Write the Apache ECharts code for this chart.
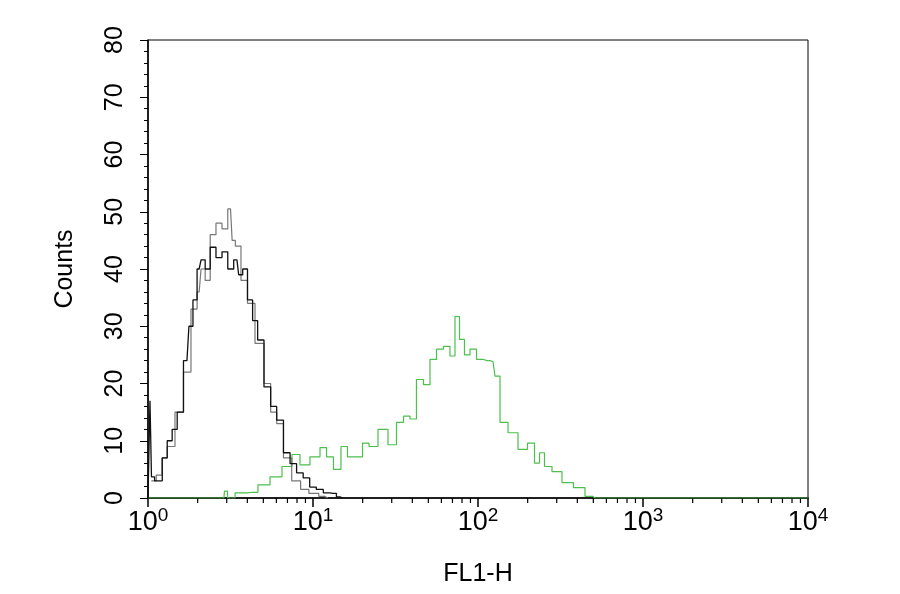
<!DOCTYPE html>
<html><head><meta charset="utf-8">
<script src="https://cdn.jsdelivr.net/npm/echarts@6/dist/echarts.min.js"></script>
<style>html,body{margin:0;padding:0;background:#fff}#c{width:900px;height:594px}</style>
</head><body><div id="c"></div>
<script>
// x values are log10(FL1-H)
const blackX = [0,0.012,0.012,0.03,0.05,0.073,0.1,0.133,0.16,0.194,0.236,0.26,0.285,0.31,0.333,0.36,0.394,0.43,0.467,0.5,0.539,0.56,0.588,0.618,0.65,0.679,0.727,0.76,0.8,0.842,0.88,0.921,0.96,1.0,1.04,1.085,1.12,1.164,1.18];
const blackY = [0,0,17,3.7,3.0,3.0,7,10,12,15,24,30,34.6,40,41.6,40,43.8,42,43,40,41.6,39,40,34.6,31,27.6,19.4,16,13.6,7.9,6,4.4,3.5,1.9,1.5,0.9,0.8,0.2,0];
const grayX = [0.02,0.03,0.07,0.1,0.133,0.194,0.236,0.285,0.31,0.333,0.36,0.394,0.43,0.467,0.5,0.52,0.539,0.588,0.618,0.679,0.727,0.76,0.8,0.842,0.9,0.95,1.0,1.07,1.09];
const grayY = [3,3,4,7,9,15,22,33,36,40,38,46,48,47,50.5,45,44,38,34,27,20,15,13,7,3,1.5,0.8,0.3,0];
const greenX = [0,0.46,0.467,0.497,0.558,0.636,0.697,0.782,0.842,0.903,0.939,1.024,1.061,1.103,1.145,1.194,1.224,1.285,1.315,1.364,1.424,1.485,1.527,1.570,1.606,1.648,1.691,1.727,1.770,1.812,1.848,1.873,1.903,1.933,1.970,2.012,2.055,2.091,2.115,2.152,2.212,2.273,2.327,2.358,2.388,2.418,2.479,2.539,2.618,2.679,2.71,4];
const greenY = [0,0,1.2,0,0.9,1.0,2.3,3.7,5.5,7.6,5.8,7.2,8.8,7.2,5.0,9.0,7.2,7.2,9.6,9.0,12.0,9.3,13.2,14.3,13.8,20.7,19.8,24.2,26.0,26.5,24.8,31.7,27.7,25.0,26.0,24.2,24.0,23.8,21.3,13.2,11.4,8.5,9.6,6.1,7.9,5.5,4.6,2.7,1.8,0.3,0,0];
const xDecades = [0,1,2,3,4];
const xMinorTicks = [];
for (let d = 0; d < 4; d++) for (let k = 2; k <= 9; k++) xMinorTicks.push(d + Math.log10(k));

const zip = (a,b)=>a.map((v,i)=>[v,b[i]]);
const chart = echarts.init(document.getElementById('c'));
const font = 'Liberation Sans, Arial, sans-serif';
chart.setOption({
  animation:false,
  grid:{left:148,right:92,top:40,bottom:96,show:true,borderColor:'#000',borderWidth:1},
  xAxis:{type:'value',min:0,max:4,interval:1,
    axisLine:{lineStyle:{color:'#000',width:1.5}},
    axisTick:{length:9,lineStyle:{color:'#000',width:1.5}},
    splitLine:{show:false},
    axisLabel:{margin:8,color:'#000',formatter:v=>'{b|10}{s|'+v+'}',
      rich:{b:{fontSize:27,fontFamily:font,color:'#000'},s:{fontSize:19,fontFamily:font,color:'#000',verticalAlign:'top',padding:[0,0,14,0]}}},
    name:'FL1-H',nameLocation:'middle',nameGap:64,nameTextStyle:{fontSize:25,fontFamily:font,color:'#000'}},
  yAxis:{type:'value',min:0,max:80,interval:10,
    axisLine:{show:true,lineStyle:{color:'#000',width:1.5}},
    axisTick:{length:8,lineStyle:{color:'#000'}},
    minorTick:{show:true,splitNumber:5,length:4,lineStyle:{color:'#000'}},
    splitLine:{show:false},
    axisLabel:{rotate:90,margin:33,color:'#000',fontSize:25,fontFamily:font,verticalAlign:'middle',align:'center'},
    name:'Counts',nameLocation:'middle',nameGap:70,nameTextStyle:{fontSize:25,fontFamily:font,color:'#000'}},
  series:[
    {type:'custom',silent:true,clip:false,data:xMinorTicks.map(v=>[v,0]),
      renderItem:(p,api)=>{const c=api.coord([api.value(0),0]);
        return {type:'line',shape:{x1:c[0],y1:c[1],x2:c[0],y2:c[1]+5},style:{stroke:'#000',lineWidth:1.2}};}},
    {type:'line',data:zip(greenX,greenY),step:'middle',symbol:'none',lineStyle:{color:'#4cbf4c',width:1.2}},
    {type:'line',data:zip(grayX,grayY),step:'middle',symbol:'none',lineStyle:{color:'#777',width:1.2}},
    {type:'line',data:zip(blackX,blackY),step:'middle',symbol:'none',lineStyle:{color:'#111',width:1.3}}
  ]
});
</script></body></html>
